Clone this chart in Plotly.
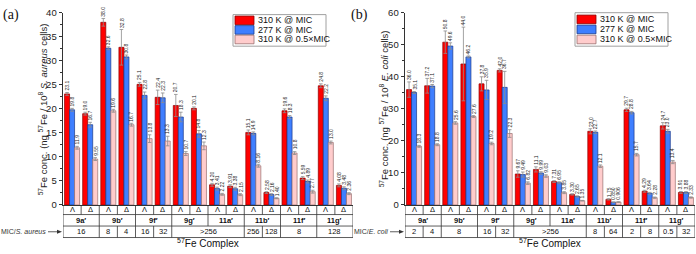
import plotly.graph_objects as go

# ---------------- data ----------------
compounds = ["9a′", "9b′", "9f′", "9g′", "11a′", "11b′", "11f′", "11g′"]
configs = ["Λ", "Δ"] * 8
series_names = ["310 K @ MIC", "277 K @ MIC", "310 K @ 0.5×MIC"]

# panel (a) S. aureus
a_red = [23.1, 19.0, 38.0, 32.8, 25.1, 22.4, 20.7, 20.1, 4.20, 3.91, 15.1, 2.58, 19.6, 5.59, 24.8, 4.08]
a_blue = [19.8, 16.7, 32.6, 30.8, 22.8, 22.3, 18.3, 14.8, 3.41, 3.38, 14.9, 2.16, 18.3, 4.89, 22.2, 3.48]
a_pink = [11.9, 9.55, 19.6, 16.7, 13.8, 13.3, 10.7, 12.3, 2.22, 2.15, 8.16, 1.40, 10.8, 2.77, 13.0, 2.36]
a_red_err = [0.3, 0.3, 0.8, 3.7, 0.4, 1.5, 2.3, 0.3, 0.3, 0.3, 0.5, 0.2, 0.4, 0.3, 0.4, 0.3]
a_blue_err = [0.3, 0.5, 0.3, 0.4, 0.7, 1.0, 1.0, 0.7, 0.3, 0.3, 0.3, 0.2, 0.3, 0.3, 0.5, 0.3]
a_pink_err = [0.3, 0.3, 0.3, 0.3, 0.8, 1.0, 0.4, 0.8, 0.2, 0.2, 0.3, 0.1, 0.3, 0.3, 0.3, 0.2]
a_mic = [(0, 1, "16"), (2, 2, "8"), (3, 3, "4"), (4, 4, "16"), (5, 5, "32"), (6, 9, ">256"),
         (10, 10, "256"), (11, 11, "128"), (12, 13, "8"), (14, 15, "128")]

# panel (b) E. coli
b_red = [36.0, 37.2, 50.8, 44.0, 37.8, 42.0, 9.67, 11.1, 7.31, 3.30, 23.0, 1.75, 29.7, 4.29, 24.7, 3.91]
b_blue = [35.1, 37.1, 49.6, 46.2, 35.9, 36.7, 9.49, 9.99, 6.95, 2.65, 22.7, 0.85, 28.8, 3.64, 23.0, 3.88]
b_pink = [18.3, 18.8, 25.6, 27.6, 19.2, 22.3, 6.82, 9.03, 3.85, 1.35, 12.1, 0.906, 15.7, 2.28, 13.4, 2.33]
b_red_err = [2.4, 2.3, 3.5, 11.5, 2.2, 0.5, 1.0, 0.8, 0.3, 0.2, 0.8, 0.2, 0.5, 0.3, 1.0, 0.3]
b_blue_err = [0.3, 0.5, 1.0, 0.3, 3.0, 5.0, 0.8, 0.4, 0.3, 0.2, 0.4, 0.1, 0.4, 0.3, 0.6, 0.3]
b_pink_err = [0.3, 0.3, 0.4, 0.3, 0.4, 1.2, 0.4, 0.4, 0.3, 0.1, 0.4, 0.1, 0.4, 0.2, 0.5, 0.2]
b_mic = [(0, 0, "2"), (1, 1, "4"), (2, 3, "8"), (4, 4, "16"), (5, 5, "32"), (6, 9, ">256"),
         (10, 10, "8"), (11, 11, "64"), (12, 12, "2"), (13, 13, "8"), (14, 14, "0.5"), (15, 15, "32")]

# ---------------- styling ----------------
W, H = 696, 254
colors = ["#ff0000", "#3f7fff", "#ffcccc"]
outlines = ["#8a0000", "#1a3a8a", "#9a7070"]
FONT = "Arial, Liberation Sans, sans-serif"
BARGAP = 0.17


def PX(x):
    return x / W


def PY(y):
    return 1 - y / H


def fmt(v):
    if v >= 10:
        return f"{v:.1f}"
    if v >= 1:
        return f"{v:.2f}"
    return f"{v:.3f}"


def txt(x, y, text, size, xref="paper", yref="paper", xanchor="center", yanchor="middle",
        color="#111", family=FONT, **kw):
    return dict(x=x, y=y, xref=xref, yref=yref, text=text, showarrow=False, xanchor=xanchor,
                yanchor=yanchor, borderpad=0, font=dict(family=family, size=size, color=color), **kw)


fig = go.Figure()
shapes = []
annotations = []

panels = [
    dict(xa="x", ya="y", xdom=(63, 353), ymax=40, dtick=5,
         series=[a_red, a_blue, a_pink], errs=[a_red_err, a_blue_err, a_pink_err],
         mic=a_mic, title="<sup>57</sup>Fe conc. (ng <sup>57</sup>Fe / 10<sup>8</sup> <i>S. aureus</i> cells)",
         titlex=43, miclabel="MIC/<i>S. aureus</i>", tag="(a)", tagx=2,
         legbox=(233, 9, 326, 42), legsw=(235, 254), legtx=257, legy=[15, 25, 35]),
    dict(xa="x2", ya="y2", xdom=(405, 695), ymax=60, dtick=10,
         series=[b_red, b_blue, b_pink], errs=[b_red_err, b_blue_err, b_pink_err],
         mic=b_mic, title="<sup>57</sup>Fe conc. (ng <sup>57</sup>Fe / 10<sup>8</sup> <i>E. coli</i> cells)",
         titlex=384, miclabel="MIC/<i>E. coli</i>", tag="(b)", tagx=350,
         legbox=(575, 7, 668, 42), legsw=(577, 596), legtx=599, legy=[14, 24.5, 35]),
]

ncell = len(configs)
xs = list(range(ncell))
bw = (1 - BARGAP) / 3

for p in panels:
    for k in range(3):
        fig.add_trace(go.Bar(
            x=xs, y=p["series"][k], name=series_names[k], xaxis=p["xa"], yaxis=p["ya"],
            marker=dict(color=colors[k], line=dict(color=outlines[k], width=0.7)),
            error_y=dict(type="data", array=p["errs"][k], color="#8c8c8c", thickness=0.8, width=1.8),
            showlegend=False,
        ))
        # value labels above the error bars
        for i in xs:
            v = p["series"][k][i]
            annotations.append(txt(i + (k - 1) * bw, v + p["errs"][k][i], fmt(v), 5,
                                   xref=p["xa"], yref=p["ya"], yanchor="bottom", color="#222",
                                   textangle=-90, yshift=1))

    xr = p["xa"]
    # table rows (pixel y: 208 axis, 218, 230, 242)
    y0, y1, y2, y3 = PY(208), PY(218), PY(230), PY(242)
    line = dict(color="#333", width=0.8)
    for yy in (y1, y2, y3):
        shapes.append(dict(type="line", xref=xr, yref="paper", x0=-0.5, x1=ncell - 0.5, y0=yy, y1=yy, line=line))
    for xx in (-0.5, ncell - 0.5):
        shapes.append(dict(type="line", xref=xr, yref="paper", x0=xx, x1=xx, y0=y0, y1=y3, line=line))
    for i in range(ncell - 1):
        shapes.append(dict(type="line", xref=xr, yref="paper", x0=i + 0.5, x1=i + 0.5, y0=y0, y1=y1, line=line))
        if i % 2 == 1:
            shapes.append(dict(type="line", xref=xr, yref="paper", x0=i + 0.5, x1=i + 0.5, y0=y1, y1=y2, line=line))
    for (s, e, t) in p["mic"]:
        if e < ncell - 1:
            shapes.append(dict(type="line", xref=xr, yref="paper", x0=e + 0.5, x1=e + 0.5, y0=y2, y1=y3, line=line))
        annotations.append(txt((s + e) / 2, PY(236), t, 7.5, xref=xr))
    for i, c in enumerate(configs):
        annotations.append(txt(i, PY(213), c, 7.5, xref=xr))
    for j, c in enumerate(compounds):
        annotations.append(txt(2 * j + 0.5, PY(224), f"<b>{c}</b>", 7.5, xref=xr))
    # MIC label with arrow
    xl = p["xdom"][0]
    annotations.append(txt(PX(xl - 16), PY(236), p["miclabel"], 7, xanchor="right", color="#333"))
    shapes.append(dict(type="line", xref="paper", yref="paper", x0=PX(xl - 15), x1=PX(xl - 5),
                       y0=PY(236), y1=PY(236), line=dict(color="#333", width=0.8)))
    shapes.append(dict(type="path", xref="paper", yref="paper",
                       path=f"M {PX(xl - 6)} {PY(234)} L {PX(xl - 1)} {PY(236)} L {PX(xl - 6)} {PY(238)} Z",
                       fillcolor="#333", line=dict(width=0)))
    # x caption
    annotations.append(txt(PX((p["xdom"][0] + p["xdom"][1]) / 2), PY(248), "<sup>57</sup>Fe Complex", 10))
    # y title
    annotations.append(txt(PX(p["titlex"]), PY(108), p["title"], 9.5, textangle=-90, color="#222"))
    # panel tag
    annotations.append(txt(PX(p["tagx"]), PY(9), p["tag"], 14, xanchor="left",
                           family="Liberation Serif, Times New Roman, serif"))
    # legend (drawn manually)
    bx0, by0, bx1, by1 = p["legbox"]
    shapes.append(dict(type="rect", xref="paper", yref="paper", x0=PX(bx0), x1=PX(bx1), y0=PY(by0), y1=PY(by1),
                       line=dict(color="#a0a0a0", width=1), fillcolor="white"))
    for k in range(3):
        cy = p["legy"][k]
        shapes.append(dict(type="rect", xref="paper", yref="paper", x0=PX(p["legsw"][0]), x1=PX(p["legsw"][1]),
                           y0=PY(cy - 4.5), y1=PY(cy + 4.5), fillcolor=colors[k],
                           line=dict(color=outlines[k], width=0.8)))
        annotations.append(txt(PX(p["legtx"]), PY(cy), series_names[k], 9, xanchor="left"))

axis_common = dict(showgrid=False, zeroline=False)
ydom = [PY(208), PY(7)]
layout = dict(
    width=W, height=H, margin=dict(l=0, r=0, t=0, b=0),
    plot_bgcolor="white", paper_bgcolor="white",
    barmode="group", bargap=BARGAP, bargroupgap=0,
    showlegend=False,
    shapes=shapes, annotations=annotations,
)
for n, p in enumerate(panels):
    sx = "" if n == 0 else "2"
    layout["xaxis" + sx] = dict(domain=[PX(p["xdom"][0]), PX(p["xdom"][1])], range=[-0.5, ncell - 0.5],
                                anchor="y" + sx, showticklabels=False, ticks="", showline=True,
                                linecolor="#333", linewidth=0.8, **axis_common)
    layout["yaxis" + sx] = dict(domain=ydom, range=[0, p["ymax"]], anchor="x" + sx, dtick=p["dtick"],
                                ticks="outside", ticklen=3.5, tickwidth=0.8, tickcolor="#333",
                                showline=True, linecolor="#333", linewidth=0.8,
                                minor=dict(dtick=p["dtick"] / 2, ticks="outside", ticklen=2, tickwidth=0.8,
                                           tickcolor="#333"),
                                tickfont=dict(family=FONT, size=9.5, color="#222"),
                                **axis_common)

fig.update_layout(**layout)
fig.write_html("out.html")
